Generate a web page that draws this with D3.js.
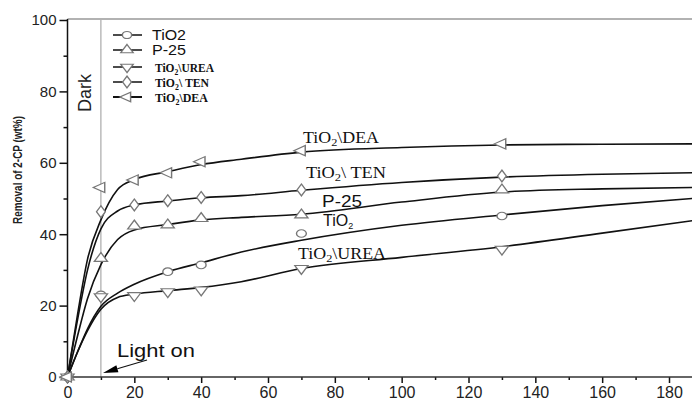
<!DOCTYPE html>
<html>
<head>
<meta charset="utf-8">
<script src="https://cdn.jsdelivr.net/npm/d3@7"></script>
<style>
  html, body { margin: 0; padding: 0; background: #fff; }
  svg { display: block; }
  .sans { font-family: "Liberation Sans", Arial, sans-serif; }
  .serif { font-family: "Liberation Serif", "Times New Roman", serif; }
</style>
</head>
<body>
<svg id="chart" width="692" height="401"></svg>
<script>
// ---- data ----
const seriesKeys = ['TiO2', 'P25', 'UREA', 'TEN', 'DEA'];

// fitted curves (time in min -> removal %)
const fitX    = [0, 3, 6, 10, 15, 20, 30, 40, 52, 70, 100, 130, 160, 187];
const fitTiO2 = [0, 7, 13.5, 19.8, 23.5, 26, 29.5, 32, 35, 38.3, 42.5, 45.4, 48, 50];
const fitP25  = [0, 11.5, 22, 31.5, 38.5, 41.2, 42.7, 44, 44.7, 45.6, 49, 51.8, 52.7, 53.1];
const fitUREA = [0, 7, 13, 19, 22.3, 23.2, 24.2, 25.1, 26.7, 30.4, 33.5, 36.5, 40.3, 43.8];
const fitTEN  = [0, 16, 30, 41.5, 46.5, 48.2, 49.3, 50.2, 50.8, 52.3, 54.5, 56, 56.8, 57.2];
const fitDEA  = [0, 17.5, 33, 44, 52.5, 55.3, 57.5, 59.5, 61, 63, 64.3, 65, 65.2, 65.3];

// measured points (markers)
const markX    = [0, 10, 20, 30, 40, 70, 130];
const markTiO2 = [0, 23, null, 29.5, 31.4, 40.2, 45.1];
const markP25  = [0, 33.2, 42.3, 42.6, 44.4, 45.4, 52.4];
const markUREA = [0, 22.5, 22.8, 23.9, 24.4, 30.4, 35.8];
const markTEN  = [0, 46.3, 48.2, 49.4, 50.3, 52.4, 56.3];
const markDEA  = [0, 53.1, 55.2, 57.2, 60.3, 63.4, 65.3];

const yTicks = [0, 20, 40, 60, 80, 100];
const xTicks = [0, 20, 40, 60, 80, 100, 120, 140, 160, 180];

const fits  = { TiO2: fitTiO2, P25: fitP25, UREA: fitUREA, TEN: fitTEN, DEA: fitDEA };
const marks = { TiO2: markTiO2, P25: markP25, UREA: markUREA, TEN: markTEN, DEA: markDEA };

// marker shapes: symbol + rotation
const shapes = {
  TiO2: { sym: d3.symbolCircle,   rot: 0 },
  P25:  { sym: d3.symbolTriangle, rot: 0 },
  UREA: { sym: d3.symbolTriangle, rot: 180 },
  TEN:  { sym: d3.symbolDiamond,  rot: 0 },
  DEA:  { sym: d3.symbolTriangle, rot: -90 }
};

const svg = d3.select('#chart');
const x = d3.scaleLinear().domain([0, 180]).range([67.5, 669]);
const y = d3.scaleLinear().domain([0, 100]).range([377, 20]);

// top frame line (grey)
svg.append('line')
  .attr('x1', x(0)).attr('x2', 692).attr('y1', y(100) - 1).attr('y2', y(100) - 1)
  .attr('stroke', '#999').attr('stroke-width', 1.5);

// "Dark" divider at t = 10
svg.append('line')
  .attr('x1', x(10)).attr('x2', x(10)).attr('y1', y(100)).attr('y2', y(0))
  .attr('stroke', '#999').attr('stroke-width', 1);

// axes
const yAxis = d3.axisLeft(y).tickValues(yTicks).tickSize(8).tickPadding(3).tickFormat(d3.format('d'));
const yMinor = d3.axisLeft(y).tickValues(d3.range(10, 100, 20)).tickSize(4).tickFormat('');
const xAxis = d3.axisBottom(x).tickValues(xTicks).tickSize(6).tickPadding(4).tickFormat(d3.format('d'));
const xMinor = d3.axisBottom(x).tickValues(d3.range(10, 190, 20)).tickSize(3).tickFormat('');

function styleAxis(g) {
  g.select('.domain').remove();
  g.selectAll('.tick line').attr('stroke', '#111').attr('stroke-width', 1.5);
  g.selectAll('.tick text').attr('class', 'sans').attr('fill', '#222').style('font-size', '15px');
}
svg.append('g').attr('transform', `translate(${x(0)},0)`).call(yAxis).call(styleAxis);
svg.append('g').attr('transform', `translate(${x(0)},0)`).call(yMinor).call(styleAxis);
svg.append('g').attr('transform', `translate(0,${y(0)})`).call(xAxis).call(styleAxis)
  .selectAll('.tick text').style('font-size', '16px');
svg.append('g').attr('transform', `translate(0,${y(0)})`).call(xMinor).call(styleAxis);

svg.append('line').attr('x1', x(0)).attr('x2', x(0)).attr('y1', y(100) - 1).attr('y2', y(0))
  .attr('stroke', '#111').attr('stroke-width', 1.5);
svg.append('line').attr('x1', x(0)).attr('x2', 692).attr('y1', y(0)).attr('y2', y(0))
  .attr('stroke', '#333').attr('stroke-width', 1.5);

// y title
svg.append('text').attr('class', 'sans')
  .attr('transform', 'translate(22,170) rotate(-90)')
  .attr('text-anchor', 'middle')
  .attr('textLength', 108).attr('lengthAdjust', 'spacingAndGlyphs')
  .style('font-size', '13px').style('font-weight', 'bold').attr('fill', '#222')
  .text('Removal of 2-CP (wt%)');

// Dark label
svg.append('text').attr('class', 'sans')
  .attr('transform', `translate(${x(10) - 10},93) rotate(-90)`)
  .attr('text-anchor', 'middle')
  .style('font-size', '18px').attr('fill', '#222')
  .text('Dark');

// fitted curves
const line = d3.line().x((d) => x(d[0])).y((d) => y(d[1])).curve(d3.curveMonotoneX);
const curves = svg.append('g');
seriesKeys.forEach((k) => {
  curves.append('path')
    .attr('d', line(fitX.map((t, i) => [t, fits[k][i]])))
    .attr('fill', 'none').attr('stroke', '#111').attr('stroke-width', 1.6);
});

// markers
function symbolPath(k, size) { return d3.symbol().type(shapes[k].sym).size(size)(); }
const mk = svg.append('g');
seriesKeys.forEach((k) => {
  const pts = markX.map((t, i) => [t, marks[k][i]]).filter((d) => d[1] !== null);
  mk.selectAll(null).data(pts).join('path')
    .attr('d', symbolPath(k, k === 'TEN' ? 40 : 45))
    .attr('transform', (d) => `translate(${x(d[0])},${y(d[1])}) scale(1.3,1) rotate(${shapes[k].rot})`)
    .attr('fill', '#fff').attr('stroke', '#777').attr('stroke-width', 1.1);
});

// text with a subscript 2 after "TiO"
function subLabel(sel, rest, sub) {
  sel.append('tspan').text('TiO');
  sel.append('tspan').text('2').attr('dy', 3).style('font-size', sub);
  sel.append('tspan').text(rest).attr('dy', -3);
}

// in-plot series labels
const ann = svg.append('g').attr('fill', '#111');
subLabel(ann.append('text').attr('class', 'serif').attr('x', 303).attr('y', 143)
  .style('font-size', '16px').attr('textLength', 76).attr('lengthAdjust', 'spacingAndGlyphs'), '\\DEA', '11px');
subLabel(ann.append('text').attr('class', 'serif').attr('x', 306).attr('y', 178)
  .style('font-size', '16px').attr('textLength', 80).attr('lengthAdjust', 'spacingAndGlyphs'), '\\ TEN', '11px');
ann.append('text').attr('class', 'sans').attr('x', 322).attr('y', 207)
  .style('font-size', '16px').attr('textLength', 40).attr('lengthAdjust', 'spacingAndGlyphs').text('P-25');
subLabel(ann.append('text').attr('class', 'sans').attr('x', 323).attr('y', 226)
  .style('font-size', '16px'), '', '9px');
subLabel(ann.append('text').attr('class', 'serif').attr('x', 298).attr('y', 259)
  .style('font-size', '16px').attr('textLength', 88).attr('lengthAdjust', 'spacingAndGlyphs'), '\\UREA', '11px');

// legend
const legendRows = [
  { k: 'TiO2', y: 35,  serif: false, rest: 'TiO2', len: 34 },
  { k: 'P25',  y: 50,  serif: false, rest: 'P-25', len: 34 },
  { k: 'UREA', y: 67,  serif: true,  rest: '\\UREA', len: 59 },
  { k: 'TEN',  y: 82,  serif: true,  rest: '\\ TEN', len: 54 },
  { k: 'DEA',  y: 97,  serif: true,  rest: '\\DEA', len: 53 }
];
const leg = svg.append('g');
legendRows.forEach((r) => {
  leg.append('line').attr('x1', 113).attr('x2', 142).attr('y1', r.y).attr('y2', r.y)
    .attr('stroke', '#111').attr('stroke-width', r.k === 'DEA' ? 2 : 1.5);
  leg.append('path').attr('d', symbolPath(r.k, 40))
    .attr('transform', `translate(127,${r.y}) scale(1.3,1) rotate(${shapes[r.k].rot})`)
    .attr('fill', '#fff').attr('stroke', '#777').attr('stroke-width', 1.1);
  const t = leg.append('text').attr('y', r.y + 5).attr('fill', '#111')
    .attr('textLength', r.len).attr('lengthAdjust', 'spacingAndGlyphs');
  if (r.serif) {
    t.attr('class', 'serif').attr('x', 155).style('font-size', '12px').style('font-weight', 'bold');
    subLabel(t, r.rest, '8px');
  } else {
    t.attr('class', 'sans').attr('x', 152).style('font-size', '14px').text(r.rest);
  }
});

// "Light on" + arrow (explicit triangle head)
svg.append('text').attr('class', 'sans').attr('x', 117).attr('y', 357)
  .style('font-size', '19px').attr('fill', '#111')
  .attr('textLength', 78).attr('lengthAdjust', 'spacingAndGlyphs').text('Light on');
const a0 = [147, 360], tip = [103, 373];
const len = Math.hypot(tip[0] - a0[0], tip[1] - a0[1]);
const ux = (tip[0] - a0[0]) / len, uy = (tip[1] - a0[1]) / len;
const hb = [tip[0] - 15 * ux, tip[1] - 15 * uy];
svg.append('line').attr('x1', a0[0]).attr('y1', a0[1]).attr('x2', hb[0]).attr('y2', hb[1])
  .attr('stroke', '#111').attr('stroke-width', 1.2);
svg.append('path')
  .attr('d', `M${tip[0]},${tip[1]}L${hb[0] - 3.6 * uy},${hb[1] + 3.6 * ux}L${hb[0] + 3.6 * uy},${hb[1] - 3.6 * ux}Z`)
  .attr('fill', '#000');
</script>
</body>
</html>
